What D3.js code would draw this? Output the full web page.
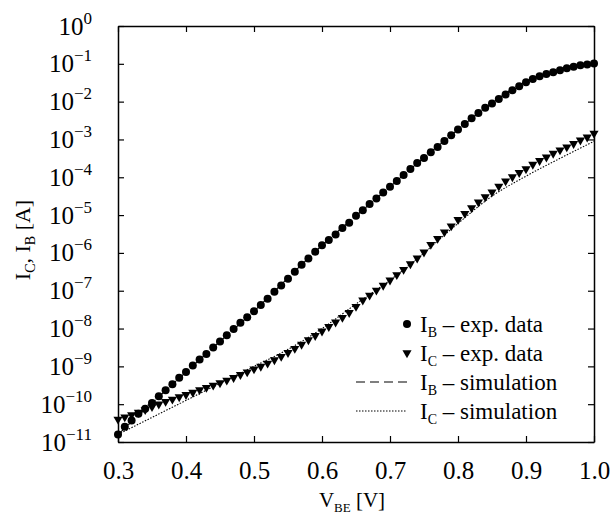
<!DOCTYPE html>
<html>
<head>
<meta charset="utf-8">
<script src="https://cdn.jsdelivr.net/npm/d3@7"></script>
<style>
  body { margin: 0; background: #fff; }
  text { font-family: "Liberation Serif", "Times New Roman", serif; fill: #000; }
</style>
</head>
<body>
<svg id="chart" width="612" height="514"></svg>
<script>
// measured V_BE grid, 0.01 V steps from 0.30 to 1.00
const vbe = d3.range(71).map(i => +(0.3 + i * 0.01).toFixed(2));

// log10 of current [A]
const ibExpLog = [
  -10.80, -10.60, -10.43, -10.25, -10.12, -9.97, -9.79, -9.63, -9.47, -9.30,
  -9.15, -8.98, -8.82, -8.67, -8.50, -8.34, -8.18, -8.01, -7.85, -7.70,
  -7.54, -7.38, -7.21, -7.03, -6.86, -6.68, -6.50, -6.31, -6.15, -5.97,
  -5.80, -5.66, -5.51, -5.34, -5.20, -5.02, -4.87, -4.71, -4.56, -4.40,
  -4.25, -4.10, -3.94, -3.78, -3.62, -3.49, -3.34, -3.20, -3.04, -2.89,
  -2.74, -2.59, -2.44, -2.30, -2.16, -2.05, -1.93, -1.81, -1.70, -1.59,
  -1.49, -1.40, -1.33, -1.27, -1.22, -1.17, -1.12, -1.08, -1.04, -1.02,
  -0.99
];
const icExpLog = [
  -10.40, -10.34, -10.28, -10.22, -10.15, -10.07, -10.00, -9.93, -9.87, -9.81,
  -9.75, -9.69, -9.62, -9.56, -9.50, -9.44, -9.37, -9.30, -9.22, -9.15,
  -9.07, -9.00, -8.92, -8.83, -8.74, -8.64, -8.53, -8.42, -8.30, -8.19,
  -8.07, -7.95, -7.83, -7.71, -7.58, -7.42, -7.25, -7.12, -6.99, -6.86,
  -6.72, -6.58, -6.44, -6.29, -6.14, -5.98, -5.78, -5.62, -5.45, -5.29,
  -5.12, -4.96, -4.81, -4.66, -4.52, -4.39, -4.24, -4.10, -3.99, -3.88,
  -3.78, -3.66, -3.56, -3.47, -3.37, -3.28, -3.20, -3.11, -3.02, -2.94,
  -2.84
];

// simulation curves
const simV = [0.30, 0.35, 0.40, 0.45, 0.50, 0.55, 0.60, 0.65, 0.70, 0.75, 0.80, 0.85, 0.90, 0.95, 1.00];
const ibSimLog = [-10.80, -9.97, -9.15, -8.34, -7.54, -6.66, -5.80, -5.02, -4.25, -3.48, -2.74, -2.03, -1.47, -1.17, -1.00];
const icSimLog = [-10.80, -10.35, -9.90, -9.45, -9.00, -8.55, -8.00, -7.35, -6.72, -6.00, -5.22, -4.50, -3.97, -3.50, -3.05];

const xTicks = [0.3, 0.4, 0.5, 0.6, 0.7, 0.8, 0.9, 1.0];
const yExponents = d3.range(-11, 1);

const width = 612, height = 514;
const marginLeft = 118, marginRight = 18, marginTop = 26, marginBottom = 72;

const svg = d3.select("#chart");

const x = d3.scaleLinear().domain([0.3, 1.0]).range([marginLeft, width - marginRight]);
const y = d3.scaleLog().domain([1e-11, 1]).range([height - marginBottom, marginTop]);
const yTicks = yExponents.map(e => Math.pow(10, e));

// frame with inward ticks on all four sides
function styleAxis(g) {
  g.select(".domain").attr("stroke-width", 1.5);
  g.selectAll(".tick line").attr("stroke-width", 1.2);
}
svg.append("g")
  .attr("transform", `translate(0,${height - marginBottom})`)
  .call(d3.axisBottom(x).tickValues(xTicks).tickSizeInner(-6).tickSizeOuter(0).tickPadding(13)
    .tickFormat(d3.format(".1f")))
  .call(styleAxis)
  .call(g => g.selectAll(".tick text")
    .attr("font-size", 25)
    .attr("font-family", "Liberation Serif")
    .attr("dy", "0.95em"));
svg.append("g")
  .attr("transform", `translate(0,${marginTop})`)
  .call(d3.axisTop(x).tickValues(xTicks).tickSizeInner(-6).tickSizeOuter(0).tickFormat(""))
  .call(styleAxis);
svg.append("g")
  .attr("transform", `translate(${marginLeft},0)`)
  .call(d3.axisLeft(y).tickValues(yTicks).tickSizeInner(-6).tickSizeOuter(0).tickFormat(""))
  .call(styleAxis);
svg.append("g")
  .attr("transform", `translate(${width - marginRight},0)`)
  .call(d3.axisRight(y).tickValues(yTicks).tickSizeInner(-6).tickSizeOuter(0).tickFormat(""))
  .call(styleAxis);

// y tick labels 10^n
const yLab = svg.append("g");
yExponents.forEach(e => {
  const t = yLab.append("text")
    .attr("x", 92)
    .attr("y", y(Math.pow(10, e)) + 8.5)
    .attr("text-anchor", "end")
    .attr("font-size", 25);
  t.append("tspan").text("10");
  t.append("tspan").attr("dy", -11).attr("font-size", 17)
    .text(e === 0 ? "0" : "\u2212" + Math.abs(e));
});

// simulation curves
const simLine = d3.line()
  .x((d, i) => x(simV[i]))
  .y(d => y(Math.pow(10, d)))
  .curve(d3.curveMonotoneX);

svg.append("path")
  .attr("fill", "none")
  .attr("stroke", "#000")
  .attr("stroke-width", 1.1)
  .attr("stroke-dasharray", "9,5")
  .attr("d", simLine(ibSimLog));
svg.append("path")
  .attr("fill", "none")
  .attr("stroke", "#000")
  .attr("stroke-width", 1.1)
  .attr("stroke-dasharray", "1.5,1.5")
  .attr("d", simLine(icSimLog));

// experimental points
const tri = d3.symbol().type(d3.symbolTriangle).size(36);
svg.append("g")
  .selectAll("path")
  .data(icExpLog)
  .join("path")
  .attr("d", tri)
  .attr("transform", (d, i) => `translate(${x(vbe[i])},${y(Math.pow(10, d))}) rotate(180)`)
  .attr("fill", "#000");

svg.append("g")
  .selectAll("circle")
  .data(ibExpLog)
  .join("circle")
  .attr("cx", (d, i) => x(vbe[i]))
  .attr("cy", d => y(Math.pow(10, d)))
  .attr("r", 4)
  .attr("fill", "#000");

// legend
const legendRows = [
  { sub: "B", label: " \u2013 exp. data", kind: "circle" },
  { sub: "C", label: " \u2013 exp. data", kind: "triangle" },
  { sub: "B", label: " \u2013 simulation", kind: "dash" },
  { sub: "C", label: " \u2013 simulation", kind: "dot" }
];
const legend = svg.append("g");
legendRows.forEach((r, i) => {
  const cy = 324 + i * 29;
  if (r.kind === "circle") {
    legend.append("circle").attr("cx", 407).attr("cy", cy).attr("r", 4).attr("fill", "#000");
  } else if (r.kind === "triangle") {
    legend.append("path").attr("d", tri)
      .attr("transform", `translate(407,${cy}) rotate(180)`).attr("fill", "#000");
  } else {
    legend.append("line")
      .attr("x1", 356).attr("x2", 407).attr("y1", cy).attr("y2", cy)
      .attr("stroke", "#000").attr("stroke-width", 1.1)
      .attr("stroke-dasharray", r.kind === "dash" ? "9,5" : "1.5,1.5");
  }
  const t = legend.append("text")
    .attr("x", 420).attr("y", cy + 7.5)
    .attr("font-size", 23);
  t.append("tspan").text("I");
  t.append("tspan").attr("dy", 5).attr("font-size", 14).text(r.sub);
  t.append("tspan").attr("dy", -5).text(r.label);
});

// axis titles
const xt = svg.append("text")
  .attr("x", 352).attr("y", 507)
  .attr("text-anchor", "middle")
  .attr("font-size", 21);
xt.append("tspan").text("V");
xt.append("tspan").attr("dy", 5).attr("font-size", 13).text("BE");
xt.append("tspan").attr("dy", -5).text(" [V]");

const yt = svg.append("text")
  .attr("transform", "translate(30,240) rotate(-90)")
  .attr("text-anchor", "middle")
  .attr("font-size", 22);
yt.append("tspan").text("I");
yt.append("tspan").attr("dy", 5).attr("font-size", 14).text("C");
yt.append("tspan").attr("dy", -5).text(", I");
yt.append("tspan").attr("dy", 5).attr("font-size", 14).text("B");
yt.append("tspan").attr("dy", -5).text(" [A]");
</script>
</body>
</html>
